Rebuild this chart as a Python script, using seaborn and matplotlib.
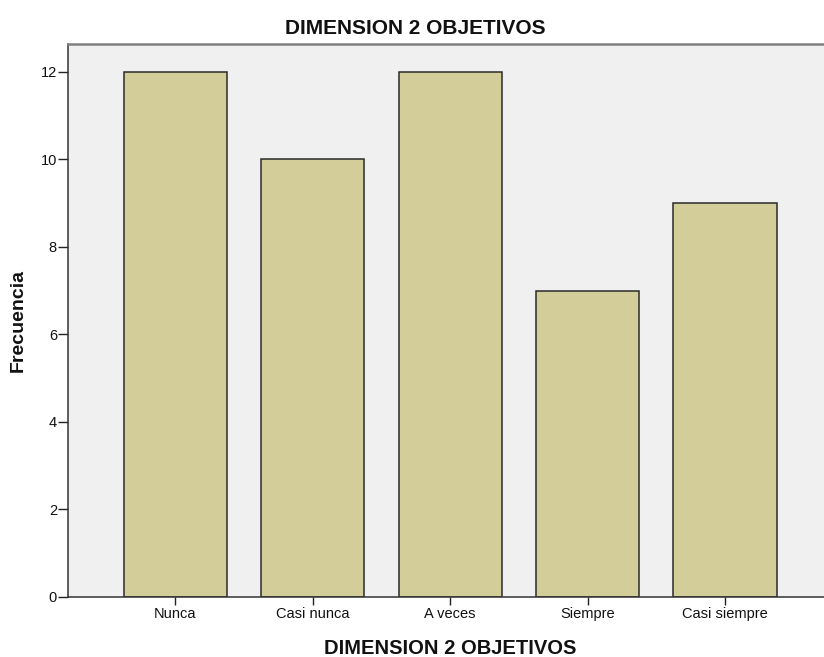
import matplotlib
matplotlib.use("Agg")
import matplotlib.pyplot as plt
import seaborn as sns
import pandas as pd

categorias = ["Nunca", "Casi nunca", "A veces", "Siempre", "Casi siempre"]
frecuencias = [12, 10, 12, 7, 9]
ticks_y = [0, 2, 4, 6, 8, 10, 12]

titulo = "DIMENSION 2 OBJETIVOS"
etiqueta_x = "DIMENSION 2 OBJETIVOS"
etiqueta_y = "Frecuencia"

sns.set_style("white")
plt.rcParams["font.family"] = ["Liberation Sans", "DejaVu Sans"]

df = pd.DataFrame({"categoria": categorias, "frecuencia": frecuencias})

W, H = 824, 657
fig = plt.figure(figsize=(W / 100, H / 100), dpi=100)
ax = fig.add_axes([68 / W, (H - 597) / H, 1 - 68 / W, (597 - 44) / H])
ax.set_facecolor("#F0F0F0")

sns.barplot(data=df, x="categoria", y="frecuencia", color="#D3CE99",
            saturation=1, width=0.75, edgecolor="#2a2a2a", linewidth=1.1, ax=ax)

ax.set_xlim(-0.78, 4.72)
ax.set_ylim(0, 12.63)
ax.set_yticks(ticks_y)
ax.set_yticklabels([str(t) for t in ticks_y])
ax.set_xlabel("")
ax.set_ylabel("")

for side in ["left", "bottom"]:
    ax.spines[side].set_visible(True)
    ax.spines[side].set_color("#333333")
    ax.spines[side].set_linewidth(1.1)
ax.spines["top"].set_visible(True)
ax.spines["top"].set_color("#808080")
ax.spines["top"].set_linewidth(1.8)
ax.spines["right"].set_visible(False)

ax.tick_params(axis="y", direction="out", length=7.2, width=1.0,
               color="#222222", labelsize=10.5, labelcolor="#111111",
               left=True, pad=0.8)
ax.tick_params(axis="x", direction="out", length=5.6, width=1.0,
               color="#222222", labelsize=10.5, labelcolor="#111111",
               bottom=True, pad=1.5)

fig.text(415 / W, (H - 34) / H, titulo, ha="center", va="baseline",
         fontsize=15, fontweight="bold", color="#111111")
fig.text(450 / W, (H - 654) / H, etiqueta_x, ha="center", va="baseline",
         fontsize=14.5, fontweight="bold", color="#111111")
fig.text(18.5 / W, (H - 320) / H, etiqueta_y, ha="center", va="center",
         rotation=90, fontsize=14, fontweight="bold", color="#111111")

fig.savefig("out.png", dpi=100)
